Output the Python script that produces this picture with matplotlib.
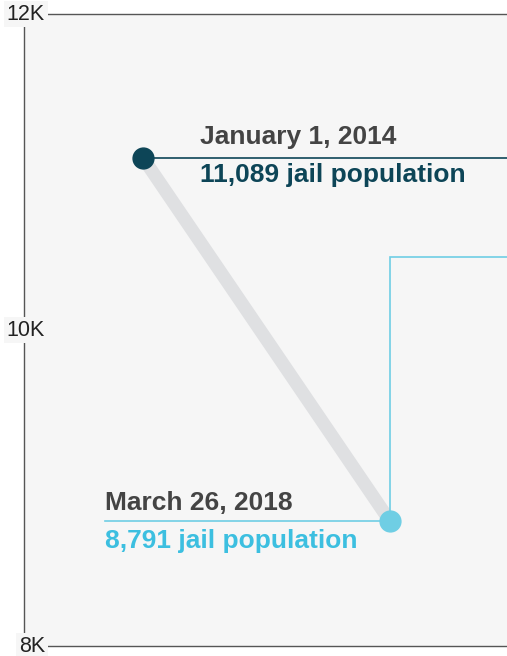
import matplotlib.pyplot as plt
import matplotlib.dates as mdates
from matplotlib.transforms import offset_copy
import datetime as dt

plt.rcParams['font.family'] = ['Liberation Sans', 'DejaVu Sans']

# data
dates = [dt.date(2014, 1, 1), dt.date(2018, 3, 26)]
population = [11089, 8791]
date_labels = ['January 1, 2014', 'March 26, 2018']
pop_labels = ['11,089 jail population', '8,791 jail population']
y_ticks = [8000, 10000, 12000]
y_tick_labels = ['8K', '10K', '12K']
leader_level = 10462  # where the light blue leader line turns right

dark = '#0d4557'
light = '#6fcee4'
light_text = '#3cbfe0'
panel = '#f6f6f6'

fig = plt.figure(figsize=(5.07, 6.56), dpi=100)
ax = fig.add_axes([24 / 507, 10 / 656, 483 / 507, 632 / 656])
ax.set_facecolor(panel)

xd = mdates.date2num(dates)
ax.set_xlim(mdates.date2num(dt.date(2011, 12, 18)), mdates.date2num(dt.date(2020, 3, 28)))
ax.set_ylim(8000, 12000)

ax.spines['right'].set_visible(False)
for s in ['left', 'top', 'bottom']:
    ax.spines[s].set_color('#555555')
    ax.spines[s].set_linewidth(1)
ax.set_xticks([])
ax.set_yticks([])

# tick labels drawn by hand so they sit on top of the spines
for v, lab in zip(y_ticks, y_tick_labels):
    ax.text(21 / 483, v, lab, transform=ax.get_yaxis_transform(), ha='right', va='center',
            fontsize=15.5, color='#222222', zorder=6, clip_on=False,
            bbox=dict(facecolor=panel, edgecolor='none', pad=2))

# thick grey connecting line
ax.plot(xd, population, color='#dfe0e2', lw=9.5, solid_capstyle='butt', zorder=2)

# dark leader line to the right edge
ax.plot([xd[0], ax.get_xlim()[1]], [population[0], population[0]], color=dark, lw=1.2, zorder=3)

# light blue leader: from under the label, up and right
x_lab_start = mdates.date2num(dt.date(2013, 5, 7))
ax.plot([x_lab_start, xd[1], xd[1], ax.get_xlim()[1]],
        [population[1], population[1], leader_level, leader_level],
        color=light, lw=1.2, zorder=3, solid_joinstyle='miter')

ax.scatter(xd[0], population[0], s=15 ** 2, color=dark, zorder=4)
ax.scatter(xd[1], population[1], s=15 ** 2, color=light, zorder=4)

# labels
t0_up = offset_copy(ax.transData, fig=fig, x=57, y=9, units='dots')
t0_dn = offset_copy(ax.transData, fig=fig, x=57, y=-5, units='dots')
ax.text(xd[0], population[0], date_labels[0], transform=t0_up, ha='left', va='bottom',
        fontsize=19, fontweight='bold', color='#444444', zorder=5)
ax.text(xd[0], population[0], pop_labels[0], transform=t0_dn, ha='left', va='top',
        fontsize=19, fontweight='bold', color=dark, zorder=5)

t1_up = offset_copy(ax.transData, fig=fig, x=0, y=6, units='dots')
t1_dn = offset_copy(ax.transData, fig=fig, x=0, y=-8, units='dots')
ax.text(x_lab_start, population[1], date_labels[1], transform=t1_up, ha='left', va='bottom',
        fontsize=19, fontweight='bold', color='#444444', zorder=5)
ax.text(x_lab_start, population[1], pop_labels[1], transform=t1_dn, ha='left', va='top',
        fontsize=19, fontweight='bold', color=light_text, zorder=5)

fig.savefig('out.png', dpi=100)
